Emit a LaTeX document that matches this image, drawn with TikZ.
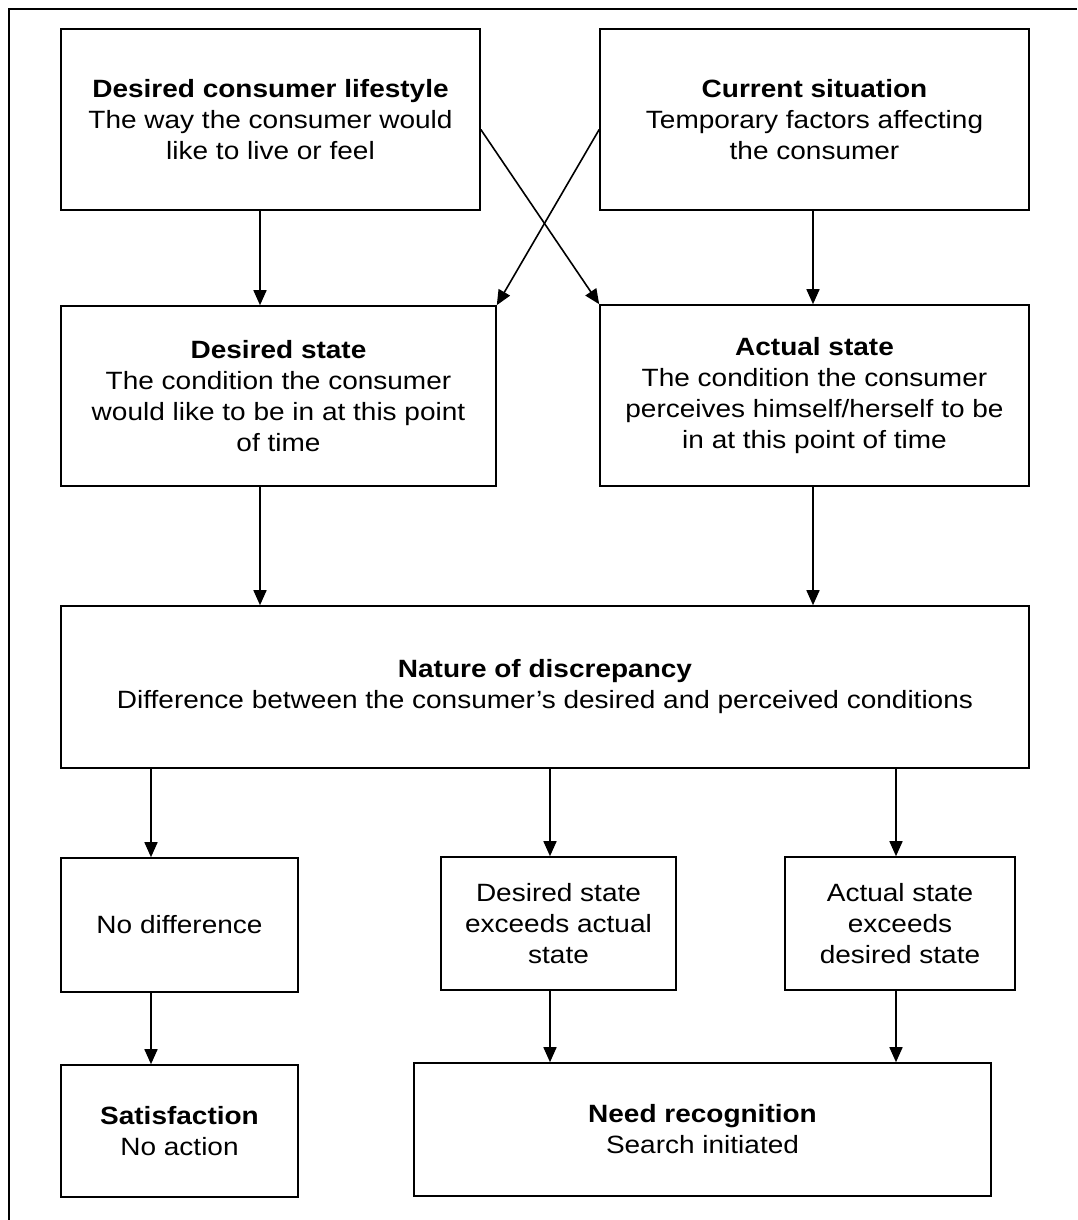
\documentclass[tikz,border=0pt]{standalone}
\usepackage{fontspec}
\setmainfont{Liberation Sans}[FakeStretch=1.12]
\usetikzlibrary{arrows.meta}
\begin{document}
\begin{tikzpicture}[x=1pt,y=-1pt,
  box/.style={draw, line width=1.6pt, rectangle, inner sep=0pt, align=center,
    font=\fontsize{25}{31}\selectfont},
  arr/.style={line width=1.6pt, -{Triangle[length=15pt,width=13pt]}},
  frameline/.style={line width=1.6pt}]
\useasboundingbox (0,0) rectangle (1077,1220);
% outer frame (top and left edges)
\coordinate (ftl) at (9,9);
\coordinate (ftr) at (1077,9);
\coordinate (fbl) at (9,1220);
\draw[frameline] (ftr) -- (ftl) -- (fbl);

% first row
\node[box, minimum width=419pt, minimum height=181pt] (dcl) at (270.5,119.5)
  {\textbf{Desired consumer lifestyle}\\The way the consumer would\\like to live or feel};
\node[box, minimum width=429pt, minimum height=181pt] (cs) at (814.5,119.5)
  {\textbf{Current situation}\\Temporary factors affecting\\the consumer};

% second row
\node[box, minimum width=435pt, minimum height=180pt] (ds) at (278.5,396)
  {\textbf{Desired state}\\The condition the consumer\\would like to be in at this point\\of time};
\node[box, minimum width=429pt, minimum height=181pt] (as) at (814.5,395.5)
  {\textbf{Actual state}\\The condition the consumer\\perceives himself/herself to be\\in at this point of time};

% discrepancy
\node[box, minimum width=968pt, minimum height=162pt] (nd) at (545,687)
  {\textbf{Nature of discrepancy}\\Difference between the consumer’s desired and perceived conditions};

% outcomes
\node[box, minimum width=237pt, minimum height=134pt] (nodiff) at (179.5,925)
  {No difference};
\node[box, minimum width=235pt, minimum height=133pt] (dex) at (558.5,923.5)
  {Desired state\\exceeds actual\\state};
\node[box, minimum width=230pt, minimum height=133pt] (aex) at (900,923.5)
  {Actual state\\exceeds\\desired state};

% results
\node[box, minimum width=237pt, minimum height=132pt] (sat) at (179.5,1131)
  {\textbf{Satisfaction}\\No action};
\node[box, minimum width=577pt, minimum height=133pt] (nr) at (702.5,1129.5)
  {\textbf{Need recognition}\\Search initiated};

% connectors
\draw[arr] ([xshift=-10.5pt]dcl.south) -- ([xshift=-18.5pt]ds.north);
\draw[arr] ([xshift=-1.5pt]cs.south) -- ([xshift=-1.5pt]as.north);
\draw[arr] ([yshift=-10pt]dcl.east) -- (as.north west);
\draw[arr] ([yshift=-10pt]cs.west) -- (ds.north east);
\draw[arr] ([xshift=-18.5pt]ds.south) -- ([xshift=-285pt]nd.north);
\draw[arr] ([xshift=-1.5pt]as.south) -- ([xshift=268pt]nd.north);
\draw[arr] ([xshift=-394pt]nd.south) -- ([xshift=-28.5pt]nodiff.north);
\draw[arr] ([xshift=5pt]nd.south) -- ([xshift=-8.5pt]dex.north);
\draw[arr] ([xshift=351pt]nd.south) -- ([xshift=-4pt]aex.north);
\draw[arr] ([xshift=-28.5pt]nodiff.south) -- ([xshift=-28.5pt]sat.north);
\draw[arr] ([xshift=-8.5pt]dex.south) -- ([xshift=-152.5pt]nr.north);
\draw[arr] ([xshift=-4pt]aex.south) -- ([xshift=193.5pt]nr.north);
\end{tikzpicture}
\end{document}
